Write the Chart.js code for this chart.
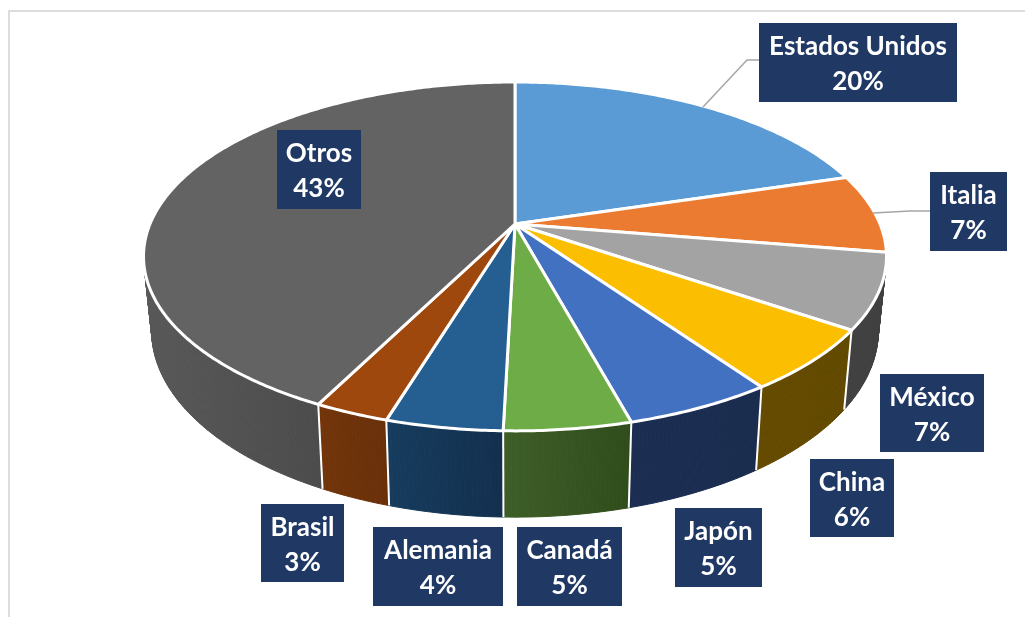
<!DOCTYPE html>
<html lang="es">
<head>
<meta charset="utf-8">
<title>Pastel 3D</title>
<script src="https://cdn.jsdelivr.net/npm/chart.js@4/dist/chart.umd.js"></script>
<style>
    html, body { margin: 0; padding: 0; background: #fff; overflow: hidden; }
    #wrap { position: relative; width: 1025px; height: 617px; }
    #pieChart { position: absolute; left: 0; top: 0; }
</style>
</head>
<body>
<div id="wrap"><canvas id="pieChart" width="1025" height="617"></canvas></div>
<script>
// Datos
const categories = ['Estados Unidos', 'Italia', 'México', 'China', 'Japón', 'Canadá', 'Alemania', 'Brasil', 'Otros'];
const values = [20.3, 7.3, 6.95, 5.75, 5.49, 4.63, 4.26, 2.74, 42.58];

const topColors = ['#5B9BD5', '#EB7B31', '#A3A3A3', '#FBBE00', '#4371C2', '#6EAC47', '#255E91', '#9E480E', '#636363'];
const wallLeft = ['#404040', '#404040', '#404040', '#654B00', '#1B2E52', '#3E5E28', '#163C5E', '#73350A', '#585858'];
const wallRight = ['#404040', '#404040', '#404040', '#624900', '#1A2C4E', '#2F4C1B', '#132F4E', '#68300A', '#3E3E3E'];

// Cajas de etiqueta: x, y, ancho, alto
const labelBoxes = [
    [759, 23, 198, 79], [930, 172, 77, 79], [880, 374, 104, 78],
    [810, 459, 84, 78], [675, 508, 87, 79], [517, 527, 105, 79],
    [373, 527, 130, 79], [261, 504, 83, 78], [277, 130, 84, 79]
];
// Líneas guía de las dos etiquetas exteriores
const leaderLines = [
    [[703, 107], [747, 60], [759, 60]],
    [[873, 213], [910, 211], [930, 211]]
];

// Proyección en perspectiva del disco (cara superior e inferior)
const cx = 515;
const persp = 0.186;
const topDisc = { a: 365, b: 168.4, y: 224 };
const bottomDisc = { a: 357, b: 180, y: 296 };

function project(disc, theta) {
    const u = Math.sin(theta);
    const v = -Math.cos(theta);
    const w = 1 - persp * v;
    return [cx + disc.a * u / w, disc.y + disc.b * v / w];
}

function arcPoints(disc, from, to) {
    const steps = Math.max(2, Math.ceil((to - from) / 0.01));
    const pts = [];
    for (let i = 0; i <= steps; i++) {
        pts.push(project(disc, from + (to - from) * i / steps));
    }
    return pts;
}

function tracePath(ctx, pts) {
    ctx.beginPath();
    pts.forEach((p, i) => i ? ctx.lineTo(p[0], p[1]) : ctx.moveTo(p[0], p[1]));
}

// Dibuja el pastel 3D a partir de los ángulos que calcula Chart.js
const pie3d = {
    id: 'pie3d',
    beforeDatasetDraw(chart, args) {
        const ctx = chart.ctx;
        const arcs = chart.getDatasetMeta(args.index).data;
        const angles = arcs.map(arc => {
            const p = arc.getProps(['startAngle', 'endAngle'], true);
            return [p.startAngle + Math.PI / 2, p.endAngle + Math.PI / 2];
        });

        ctx.save();
        // Paredes laterales, en tiras para que la silueta quede cerrada
        ctx.lineWidth = 1;
        angles.forEach((a, i) => {
            const topArc = arcPoints(topDisc, a[0], a[1]);
            const bottomArc = arcPoints(bottomDisc, a[0], a[1]);
            const xs = topArc.concat(bottomArc).map(p => p[0]);
            const grad = ctx.createLinearGradient(Math.min(...xs), 0, Math.max(...xs), 0);
            grad.addColorStop(0, wallLeft[i]);
            grad.addColorStop(1, wallRight[i]);
            ctx.fillStyle = grad;
            ctx.strokeStyle = grad;
            for (let s = 0; s < topArc.length - 1; s++) {
                tracePath(ctx, [topArc[s], topArc[s + 1], bottomArc[s + 1], bottomArc[s]]);
                ctx.closePath();
                ctx.fill();
                ctx.stroke();
            }
        });

        // Separadores blancos en la parte frontal
        ctx.strokeStyle = '#fff';
        ctx.lineWidth = 2;
        angles.forEach(a => {
            if (-Math.cos(a[0]) > 0.5) {
                tracePath(ctx, [project(topDisc, a[0]), project(bottomDisc, a[0])]);
                ctx.stroke();
            }
        });

        // Cara superior
        ctx.lineJoin = 'round';
        ctx.lineWidth = 3;
        arcs.forEach((arc, i) => {
            const pts = [[cx, topDisc.y]].concat(arcPoints(topDisc, angles[i][0], angles[i][1]));
            tracePath(ctx, pts);
            ctx.closePath();
            ctx.fillStyle = arc.options.backgroundColor;
            ctx.fill();
            ctx.stroke();
        });
        ctx.restore();
        return false;
    },
    afterDatasetsDraw(chart) {
        const ctx = chart.ctx;
        ctx.save();

        ctx.strokeStyle = '#A6A6A6';
        ctx.lineWidth = 1.5;
        leaderLines.forEach(line => {
            tracePath(ctx, line);
            ctx.stroke();
        });

        ctx.font = 'bold 26px Lato';
        ctx.textAlign = 'center';
        ctx.textBaseline = 'middle';
        categories.forEach((name, i) => {
            const box = labelBoxes[i];
            ctx.fillStyle = '#203864';
            ctx.fillRect(box[0], box[1], box[2], box[3]);
            ctx.fillStyle = '#fff';
            const mid = box[0] + box[2] / 2;
            ctx.fillText(name, mid, box[1] + 24);
            ctx.fillText(Math.round(values[i]) + '%', mid, box[1] + 59);
        });
        ctx.restore();
    },
    beforeDraw(chart) {
        // Marco del gráfico
        const ctx = chart.ctx;
        ctx.save();
        ctx.fillStyle = '#fff';
        ctx.fillRect(0, 0, chart.width, chart.height);
        ctx.fillStyle = '#DDDDDD';
        ctx.fillRect(8, 10, chart.width - 8, 2);
        ctx.fillRect(8, 10, 2, chart.height - 10);
        ctx.restore();
    }
};

new Chart(document.getElementById('pieChart').getContext('2d'), {
    type: 'pie',
    data: {
        labels: categories,
        datasets: [{
            data: values,
            backgroundColor: topColors,
            borderColor: '#fff',
            borderWidth: 2
        }]
    },
    options: {
        responsive: false,
        animation: false,
        plugins: {
            legend: { display: false },
            tooltip: { enabled: false }
        }
    },
    plugins: [pie3d]
});
</script>
</body>
</html>
